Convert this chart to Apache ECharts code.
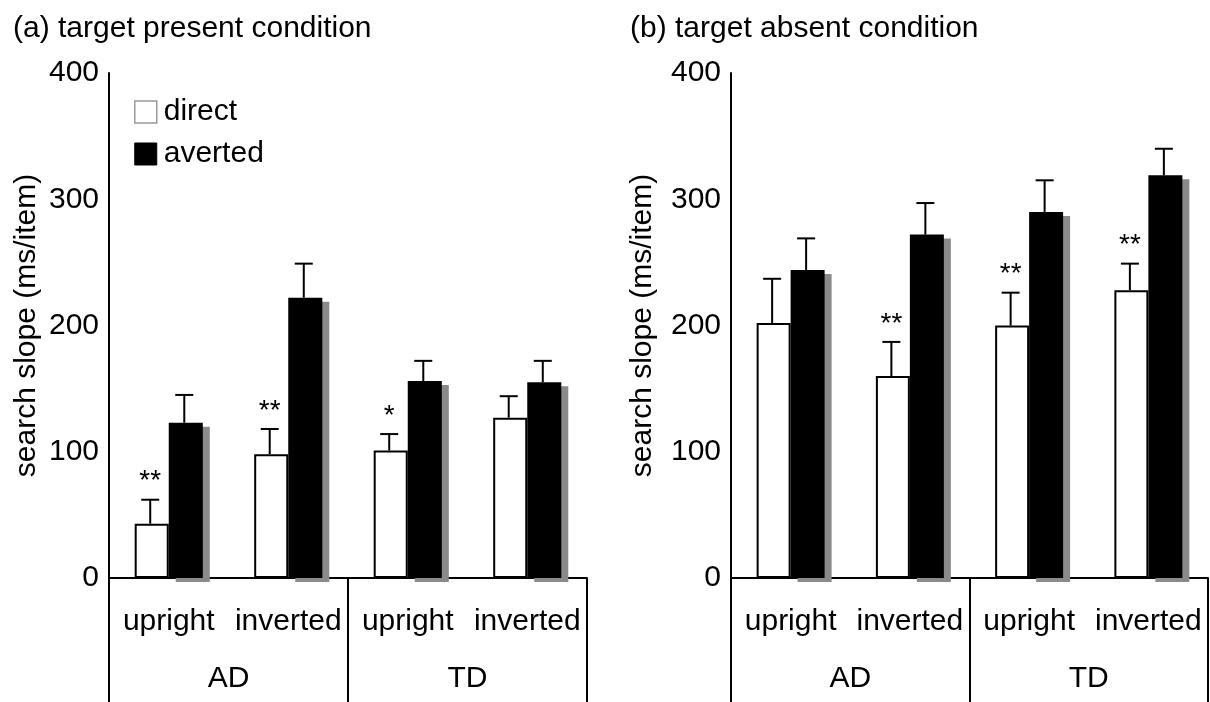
<!DOCTYPE html>
<html>
<head>
<meta charset="utf-8">
<script src="https://cdn.jsdelivr.net/npm/echarts@6/dist/echarts.min.js"></script>
<style>
html,body{margin:0;padding:0;background:#fff;}
#chart{width:1210px;height:702px;}
</style>
</head>
<body>
<div id="chart"></div>
<script>
// ---- data ----
const categories = ['upright', 'inverted', 'upright', 'inverted'];
const groups = ['AD', 'TD'];
const seriesNames = ['direct', 'averted'];
const panelTitles = ['(a) target present condition', '(b) target absent condition'];
const yAxisName = 'search slope (ms/item)';

const presentDirect = [43, 98, 101, 127];
const presentDirectErr = [19, 20, 13, 17];
const presentAverted = [123, 222, 156, 155];
const presentAvertedErr = [22, 27, 16, 17];
const presentSig = ['**', '**', '*', ''];

const absentDirect = [202, 160, 200, 228];
const absentDirectErr = [35, 27, 26, 21];
const absentAverted = [244, 272, 290, 319];
const absentAvertedErr = [25, 25, 25, 21];
const absentSig = ['', '**', '**', '**'];

// ---- chart ----
const FONT = '"Liberation Sans", Arial, sans-serif';
const FS = 30;
const BAR_RATIO = 0.285;

const chart = echarts.init(document.getElementById('chart'), null, {renderer: 'canvas'});

function errSeries(gridIdx, values, errs, side, sig) {
  return {
    type: 'custom',
    xAxisIndex: gridIdx * 2,
    yAxisIndex: gridIdx,
    z: 5,
    silent: true,
    data: values.map((v, i) => [i, v, errs[i]]),
    renderItem: function (params, api) {
      const idx = api.value(0), v = api.value(1), e = api.value(2);
      const base = api.coord([idx, v]);
      const top = api.coord([idx, v + e]);
      const band = api.size([1, 0])[0];
      const w = band * BAR_RATIO;
      const x = base[0] + side * w / 2 - 1.5;
      const st = {stroke: '#000', lineWidth: 2};
      const children = [
        {type: 'line', shape: {x1: x, y1: base[1], x2: x, y2: top[1]}, style: st},
        {type: 'line', shape: {x1: x - 9, y1: top[1], x2: x + 9, y2: top[1]}, style: st}
      ];
      const s = sig ? sig[params.dataIndex] : '';
      if (s) {
        children.push({type: 'text', style: {text: s, x: x, y: top[1] - 4, textAlign: 'center', textVerticalAlign: 'bottom', font: '28px ' + FONT, fill: '#000'}});
      }
      return {type: 'group', children: children};
    }
  };
}

function barSeries(gridIdx, name, values, dark) {
  return {
    type: 'bar',
    name: name,
    xAxisIndex: gridIdx * 2,
    yAxisIndex: gridIdx,
    barWidth: (BAR_RATIO * 100) + '%',
    barGap: '0%',
    data: values,
    itemStyle: dark ? {
      color: '#000', borderWidth: 0,
      shadowColor: '#8a8a8a', shadowOffsetX: 7, shadowOffsetY: 4, shadowBlur: 0
    } : {color: '#fff', borderColor: '#000', borderWidth: 2},
    emphasis: {disabled: true}
  };
}

const grids = [
  {left: 109, width: 478, top: 73, bottom: 124},
  {left: 731, width: 477, top: 73, bottom: 124}
];

const xAxes = [], yAxes = [];
[0, 1].forEach(g => {
  xAxes.push({
    type: 'category', gridIndex: g, data: categories, position: 'bottom',
    axisLine: {show: true, lineStyle: {color: '#000', width: 2}},
    axisTick: {show: false},
    axisLabel: {color: '#000', fontSize: FS, fontFamily: FONT, margin: 29, interval: 0}
  });
  xAxes.push({
    type: 'category', gridIndex: g, data: groups, position: 'bottom',
    axisLine: {show: false},
    axisTick: {show: true, length: 124, lineStyle: {color: '#000', width: 2}},
    axisLabel: {color: '#000', fontSize: FS, fontFamily: FONT, margin: 86, interval: 0}
  });
  yAxes.push({
    type: 'value', gridIndex: g, min: 0, max: 400, interval: 100,
    name: yAxisName, nameLocation: 'middle', nameGap: g === 0 ? 67 : 73, nameRotate: 90,
    nameTextStyle: {color: '#000', fontSize: FS, fontFamily: FONT},
    axisLine: {show: true, lineStyle: {color: '#000', width: 2}},
    axisTick: {show: false},
    splitLine: {show: false},
    axisLabel: {color: '#000', fontSize: FS, fontFamily: FONT, margin: 10}
  });
});

const option = {
  backgroundColor: '#fff',
  animation: false,
  textStyle: {fontFamily: FONT},
  title: [
    {text: panelTitles[0], left: 8, top: 9, textStyle: {color: '#000', fontSize: FS, fontWeight: 'normal', fontFamily: FONT}},
    {text: panelTitles[1], left: 625, top: 9, textStyle: {color: '#000', fontSize: FS, fontWeight: 'normal', fontFamily: FONT}}
  ],
  legend: {
    left: 129, top: 92, orient: 'vertical', itemWidth: 22, itemHeight: 22, itemGap: 12,
    icon: 'rect', selectedMode: false,
    textStyle: {color: '#000', fontSize: FS, fontFamily: FONT, padding: [0, 0, 0, 2]},
    data: [
      {name: seriesNames[0], itemStyle: {color: '#fff', borderColor: '#999', borderWidth: 1.5}},
      {name: seriesNames[1], itemStyle: {color: '#000', borderColor: '#000', borderWidth: 1, shadowBlur: 0, shadowOffsetX: 0, shadowOffsetY: 0}}
    ]
  },
  grid: grids,
  xAxis: xAxes,
  yAxis: yAxes,
  series: [
    barSeries(0, seriesNames[0], presentDirect, false),
    barSeries(0, seriesNames[1], presentAverted, true),
    barSeries(1, seriesNames[0], absentDirect, false),
    barSeries(1, seriesNames[1], absentAverted, true),
    errSeries(0, presentDirect, presentDirectErr, -1, presentSig),
    errSeries(0, presentAverted, presentAvertedErr, 1, null),
    errSeries(1, absentDirect, absentDirectErr, -1, absentSig),
    errSeries(1, absentAverted, absentAvertedErr, 1, null)
  ]
};
chart.setOption(option);
</script>
</body>
</html>
